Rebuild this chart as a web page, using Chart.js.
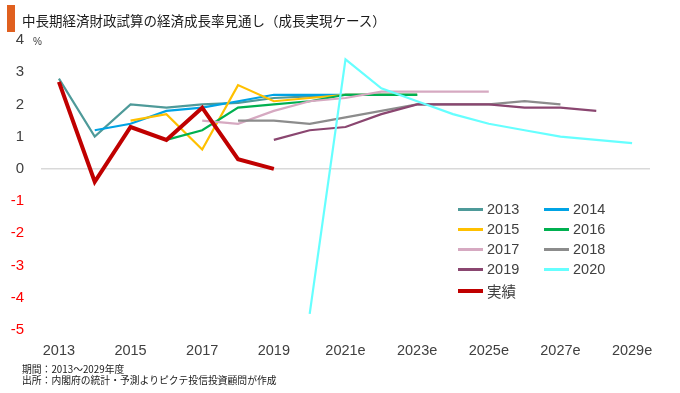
<!DOCTYPE html>
<html>
<head>
<meta charset="utf-8">
<script src="https://cdn.jsdelivr.net/npm/chart.js@4.4.1/dist/chart.umd.min.js"></script>
<style>
  html, body { margin: 0; padding: 0; background: #fff; }
  #wrap { position: relative; width: 680px; height: 393px; overflow: hidden; background: #fff; }
  #chart { position: absolute; left: 0; top: 0; }
  .bar { position: absolute; left: 7px; top: 5px; width: 8px; height: 27px; background: #E0601F; }
  .title { position: absolute; left: 22px; top: 9px; font: 400 13.5px/22px "Noto Sans CJK JP", sans-serif; color: #1a1a1a; white-space: nowrap; }
  .unit { position: absolute; left: 33px; top: 35px; font: 400 10px/14px "Liberation Sans", sans-serif; color: #404040; }
  .note { position: absolute; left: 22px; font: 400 9.8px/11px "Noto Sans CJK JP", sans-serif; color: #1a1a1a; white-space: nowrap; }
  .lg { position: absolute; height: 20px; display: flex; align-items: center; white-space: nowrap; }
  .lg i { display: inline-block; width: 25px; margin-right: 4px; }
  .lg span { font: 400 14.5px/20px "Liberation Sans", sans-serif; color: #404040; }
  .lg span.jp { font: 400 14.5px/20px "Noto Sans CJK JP", sans-serif; }
</style>
</head>
<body>
<div id="wrap">
  <canvas id="chart" width="680" height="393"></canvas>
  <div class="bar"></div>
  <div class="title">中長期経済財政試算の経済成長率見通し（成長実現ケース）</div>
  <div class="unit">%</div>
  <div class="note" style="top:364px">期間：2013～2029年度</div>
  <div class="note" style="top:375px">出所：内閣府の統計・予測よりピクテ投信投資顧問が作成</div>
  <div id="legend"></div>
</div>
<script>
// ---- data ----
const categories = ['2013','2014','2015','2016','2017','2018','2019','2020','2021e','2022e','2023e','2024e','2025e','2026e','2027e','2028e','2029e'];
const seriesNames = ['2013','2014','2015','2016','2017','2018','2019','2020','実績'];
const s2013 = [2.8, 1.0, 2.0, 1.9, 2.0, 2.05, 2.2, 2.25, 2.3, 2.3, 2.3, null, null, null, null, null, null];
const s2014 = [null, 1.2, 1.4, 1.8, 1.9, 2.1, 2.3, 2.3, 2.3, 2.3, 2.3, null, null, null, null, null, null];
const s2015 = [null, null, 1.5, 1.7, 0.6, 2.6, 2.1, 2.2, 2.3, 2.3, 2.3, null, null, null, null, null, null];
const s2016 = [null, null, null, 0.9, 1.2, 1.9, 2.0, 2.1, 2.3, 2.3, 2.3, null, null, null, null, null, null];
const s2017 = [null, null, null, null, 1.5, 1.4, 1.8, 2.1, 2.2, 2.4, 2.4, 2.4, 2.4, null, null, null, null];
const s2018 = [null, null, null, null, null, 1.5, 1.5, 1.4, 1.6, 1.8, 2.0, 2.0, 2.0, 2.1, 2.0, null, null];
const s2019 = [null, null, null, null, null, null, 0.9, 1.2, 1.3, 1.7, 2.0, 2.0, 2.0, 1.9, 1.9, 1.8, null];
const s2020 = [null, null, null, null, null, null, null, -4.5, 3.4, 2.5, 2.1, 1.7, 1.4, 1.2, 1.0, 0.9, 0.8];
const actual = [2.7, -0.4, 1.3, 0.9, 1.9, 0.3, 0.0, null, null, null, null, null, null, null, null, null, null];
const yTicks = [-5, -4, -3, -2, -1, 0, 1, 2, 3, 4];

const seriesValues = [s2013, s2014, s2015, s2016, s2017, s2018, s2019, s2020, actual];
const seriesColors = ['#4E9A99', '#00A3E4', '#FFC000', '#00B050', '#D6A9C1', '#8C8C8C', '#8A4670', '#66FFFF', '#C00000'];
const seriesWidths = [2.2, 2.2, 2.2, 2.2, 2.2, 2.2, 2.2, 2.2, 4];
const drawOrder = [8, 7, 6, 5, 4, 3, 2, 1, 0];

const datasets = seriesNames.map((name, i) => ({
  label: name,
  data: seriesValues[i],
  borderColor: seriesColors[i],
  backgroundColor: seriesColors[i],
  borderWidth: seriesWidths[i],
  pointRadius: 0,
  pointHoverRadius: 0,
  tension: 0,
  fill: false,
  spanGaps: false,
  order: drawOrder[i]
}));

const tickFont = { family: '"Liberation Sans", Arial, sans-serif', size: 14.5 };

const chart = new Chart(document.getElementById('chart'), {
  type: 'line',
  data: { labels: categories, datasets: datasets },
  options: {
    responsive: false,
    animation: false,
    devicePixelRatio: 1,
    layout: { padding: { top: 40, right: 30, left: 0, bottom: 0 } },
    plugins: { legend: { display: false }, tooltip: { enabled: false }, title: { display: false } },
    scales: {
      x: {
        type: 'category',
        offset: true,
        grid: { display: false },
        border: { display: false },
        ticks: {
          autoSkip: false,
          maxRotation: 0,
          padding: 4,
          color: '#404040',
          font: tickFont,
          callback: function (v, i) { return i % 2 === 0 ? categories[i] : null; }
        },
        afterFit: function (s) { s.height = 63; }
      },
      y: {
        min: yTicks[0],
        max: yTicks[yTicks.length - 1],
        afterBuildTicks: function (s) { s.ticks = yTicks.map(v => ({ value: v })); },
        grid: {
          drawTicks: false,
          lineWidth: 1.5,
          color: function (ctx) { return ctx.tick && ctx.tick.value === 0 ? '#D9D9D9' : 'rgba(0,0,0,0)'; }
        },
        border: { display: false },
        ticks: {
          padding: 17,
          font: { family: tickFont.family, size: 15 },
          color: function (ctx) { return ctx.tick && ctx.tick.value < 0 ? '#FF0000' : '#404040'; }
        },
        afterFit: function (s) { s.width = 41; }
      }
    }
  }
});

// ---- HTML legend built from the chart's datasets ----
const lg = document.getElementById('legend');
chart.data.datasets.forEach((ds, i) => {
  const col = i % 2, row = Math.floor(i / 2);
  const d = document.createElement('div');
  d.className = 'lg';
  d.style.left = (458 + col * 86) + 'px';
  d.style.top = (199 + row * 20 + (row === 4 ? 2 : 0)) + 'px';
  const sw = document.createElement('i');
  sw.style.height = (ds.borderWidth > 3 ? 4 : 3) + 'px';
  sw.style.background = ds.borderColor;
  const t = document.createElement('span');
  t.textContent = ds.label;
  if (/[^\x00-\x7F]/.test(ds.label)) t.className = 'jp';
  d.appendChild(sw); d.appendChild(t);
  lg.appendChild(d);
});
</script>
</body>
</html>
